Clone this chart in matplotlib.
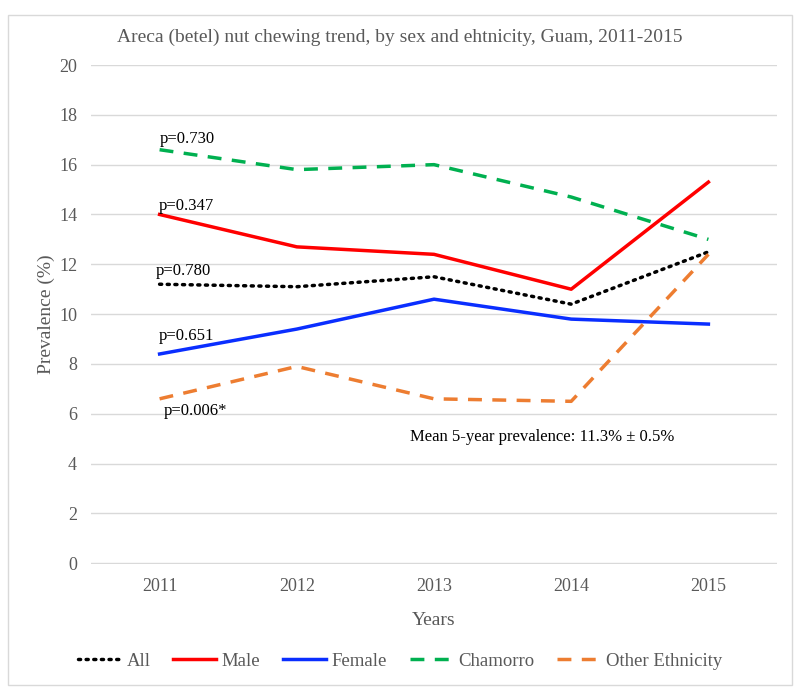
import matplotlib
matplotlib.use("Agg")
import matplotlib.pyplot as plt
from matplotlib.patches import Rectangle

years = ["2011", "2012", "2013", "2014", "2015"]
all_vals = [11.2, 11.1, 11.5, 10.4, 12.5]
male = [14.0, 12.7, 12.4, 11.0, 15.3]
female = [8.4, 9.4, 10.6, 9.8, 9.6]
chamorro = [16.6, 15.8, 16.0, 14.7, 13.0]
other = [6.6, 7.9, 6.6, 6.5, 12.4]
pvals = ["p=0.730", "p=0.347", "p=0.780", "p=0.651", "p=0.006*"]

plt.rcParams['font.family'] = ['Liberation Serif', 'DejaVu Serif']
gray = '#595959'

fig = plt.figure(figsize=(8, 6.92), dpi=100)
fig.patches.append(Rectangle((8/800, 1-685/692), 784/800, 670/692, transform=fig.transFigure,
                             fill=False, edgecolor='#d9d9d9', lw=1.0))
ax = fig.add_axes([91/800, 1-564/692, 686/800, 499/692])
x = list(range(len(years)))

ax.plot(x, all_vals, color='black', lw=2.5, linestyle=(0, (0.6, 1.6)), dash_capstyle='round', label='All', zorder=3)
ax.plot(x, male, color='#ff0000', lw=2.5, label='Male', zorder=3)
ax.plot(x, female, color='#0a2eff', lw=2.5, label='Female', zorder=3)
ax.plot(x, chamorro, color='#00b050', lw=2.5, linestyle=(0, (4, 3)), label='Chamorro', zorder=3)
ax.plot(x, other, color='#ed7d31', lw=2.5, linestyle=(0, (4, 3)), label='Other Ethnicity', zorder=3)

ax.set_xlim(-0.5, 4.5)
ax.set_ylim(-0.03, 20)
ax.set_yticks(range(0, 21, 2))
ax.set_xticks(x)
ax.set_xticklabels(years)
ax.grid(axis='y', color='#d9d9d9', lw=1)
ax.set_axisbelow(True)
for s in ax.spines.values():
    s.set_visible(False)
ax.tick_params(length=0, labelsize=13, colors=gray, pad=10)
ax.set_xlabel('Years', fontsize=14, color=gray, labelpad=12)
ax.set_ylabel('Prevalence (%)', fontsize=14, color=gray, labelpad=3)

# p-value annotations
ax.text(0.0, 16.7, pvals[0], fontsize=12, ha='left', va='bottom')
ax.text(-0.01, 14.0, pvals[1], fontsize=12, ha='left', va='bottom')
ax.text(-0.03, 11.4, pvals[2], fontsize=12, ha='left', va='bottom')
ax.text(-0.01, 8.8, pvals[3], fontsize=12, ha='left', va='bottom')
ax.text(0.03, 6.45, pvals[4], fontsize=12, ha='left', va='top')
ax.text(2.79, 5.05, 'Mean 5-year prevalence: 11.3% \u00b1 0.5%', fontsize=12, ha='center', va='center')

fig.text(0.5, 1-37/692, 'Areca (betel) nut chewing trend, by sex and ehtnicity, Guam, 2011-2015',
         ha='center', va='center', fontsize=14, color=gray)

leg = fig.legend(loc='center', bbox_to_anchor=(0.5, 1-661/692), ncol=5, frameon=False,
                 fontsize=13.5, handlelength=2.3, columnspacing=1.2, handletextpad=0.3)
for t in leg.get_texts():
    t.set_color(gray)

fig.savefig('out.png', dpi=100)
